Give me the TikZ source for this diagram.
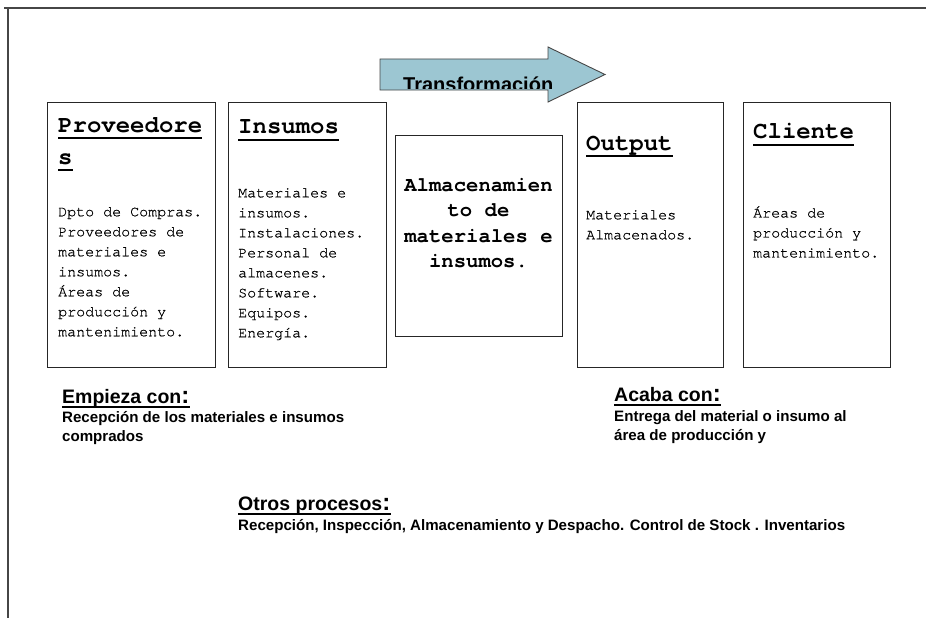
\documentclass[tikz,border=0pt]{standalone}
\usepackage{fontspec}
\usetikzlibrary{calc}
\setmainfont{Liberation Sans}
\newfontfamily\boxfont{TeX Gyre Cursor}
\newfontfamily\boxtextfont[FakeBold=0.6]{TeX Gyre Cursor}
\definecolor{arrowfill}{RGB}{156,198,210}
\definecolor{edgegray}{RGB}{70,70,70}
\begin{document}
\begin{tikzpicture}[x=1pt,y=-1pt,
  pageframe/.style={draw=edgegray, line width=1.4pt},
  block/.style={draw=black!85, line width=1.1pt, anchor=north west, inner sep=0},
  boxtitle/.style={font=\boxfont\bfseries\fontsize{24}{24}\selectfont, inner sep=0, anchor=base west},
  boxbody/.style={font=\boxtextfont\fontsize{15}{20}\selectfont, inner sep=0, anchor=north west, align=left},
  uline/.style={line width=2.6pt},
  heading/.style={font=\bfseries\fontsize{19.5}{19.5}\selectfont, inner sep=0, anchor=base west},
  note/.style={font=\bfseries\fontsize{15.1}{19.5}\selectfont, inner sep=0, anchor=north west, align=left},
  hline/.style={line width=1.4pt}
]
\useasboundingbox (0,0) rectangle (926,618);

% page frame
\coordinate (fa) at (4,8);
\coordinate (fb) at (926,8);
\coordinate (fc) at (8,8);
\coordinate (fd) at (8,618);
\draw[pageframe] (fa) -- (fb);
\draw[pageframe] (fc) -- (fd);

% transformation arrow
\path[fill=arrowfill] (380,59) -- (548,59) -- (548,47) -- (605,74.5) -- (548,102) -- (548,90) -- (380,90) -- cycle;
\begin{scope}
  \clip (380,59) rectangle (600,88.5);
  \node[font=\bfseries\fontsize{20}{20}\selectfont, inner sep=0, anchor=base west] (trans) at (403,92) {Transformación};
\end{scope}
\draw[draw=edgegray, line width=0.9pt] (380,59) -- (548,59) -- (548,47) -- (605,74.5) -- (548,102) -- (548,90) -- (380,90) -- cycle;

% process blocks
\node[block, minimum width=168pt, minimum height=265pt] (prov) at (47,102) {};
\node[block, minimum width=158pt, minimum height=265pt] (insu) at (228,102) {};
\node[block, minimum width=167pt, minimum height=201pt] (alma) at (395,135) {};
\node[block, minimum width=146pt, minimum height=265pt] (outp) at (577,102) {};
\node[block, minimum width=147pt, minimum height=265pt] (clie) at (743,102) {};

% block titles
\node[boxtitle] (tprov) at (58,132) {Proveedore};
\node[boxtitle] (tprovs) at (58,164) {s};
\node[boxtitle] (tinsu) at (238,133) {Insumos};
\node[boxtitle] (toutp) at (586,150) {Output};
\node[boxtitle] (tclie) at (753,138) {Cliente};
\draw[uline] ($(tprov.base west)+(0,6)$) -- ($(tprov.base east)+(0,6)$);
\draw[uline] ($(tprovs.base west)+(0,6)$) -- ($(tprovs.base east)+(0,6)$);
\draw[uline] ($(tinsu.base west)+(0,7)$) -- ($(tinsu.base east)+(0,7)$);
\draw[uline] ($(toutp.base west)+(0,6)$) -- ($(toutp.base east)+(0,6)$);
\draw[uline] ($(tclie.base west)+(0,7)$) -- ($(tclie.base east)+(0,7)$);

% block contents
\node[boxbody] (bprov) at (58,207) {Dpto de Compras.\\Proveedores de\\materiales e\\insumos.\\Áreas de\\producción y\\mantenimiento.};
\node[boxbody] (binsu) at (238,188) {Materiales e\\insumos.\\Instalaciones.\\Personal de\\almacenes.\\Software.\\Equipos.\\Energía.};
\node[font=\boxfont\bfseries\fontsize{20.6}{25.5}\selectfont, inner sep=0, anchor=north, align=center] (balma) at (478.5,178) {Almacenamien\\to de\\materiales e\\insumos.};
\node[boxbody] (boutp) at (586,210) {Materiales\\Almacenados.};
\node[boxbody] (bclie) at (753,206) {Áreas de\\producción y\\mantenimiento.};

% notes below the blocks
\node[heading] (hini) at (62,403) {Empieza con\fontsize{24}{24}\selectfont:};
\draw[hline] ($(hini.base west)+(0,4)$) -- ($(hini.base east)+(0,4)$);
\node[note] (nini) at (62,411) {Recepción de los materiales e insumos\\comprados};

\node[heading] (hfin) at (614,401) {Acaba con\fontsize{24}{24}\selectfont:};
\draw[hline] ($(hfin.base west)+(0,4)$) -- ($(hfin.base east)+(0,4)$);
\node[note] (nfin) at (614,410) {Entrega del material o insumo al\\área de producción y};

\node[heading] (hotr) at (238,510) {Otros procesos\fontsize{24}{24}\selectfont:};
\draw[hline] ($(hotr.base west)+(0,4)$) -- ($(hotr.base east)+(0,4)$);
\node[note] (notr) at (238,519) {Recepción, Inspección, Almacenamiento y Despacho. Control de Stock . Inventarios};
\end{tikzpicture}
\end{document}
